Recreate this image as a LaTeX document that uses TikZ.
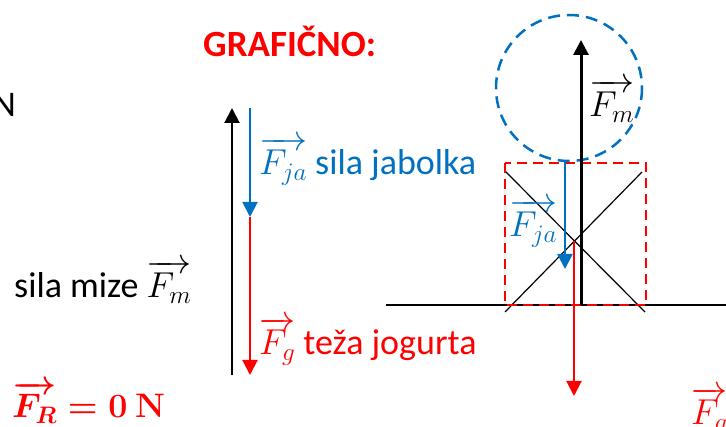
\RequirePackage{fix-cm}
\documentclass[tikz,border=0pt]{standalone}
\usepackage{amsmath}
\usepackage{amssymb}
\usepackage[no-math]{fontspec}
\setmainfont{Carlito}
\usepackage{tikz}
\usetikzlibrary{
    arrows.meta,
    calc
}
\definecolor{myblue}{HTML}{0070C0}
\tikzset{
    lbl/.style={anchor=base west, inner sep=0pt, font=\fontsize{36}{43}\selectfont},
    vec/.style={line width=2pt, -{Triangle[length=15pt,width=15pt]}}
}

\begin{document}
\begin{tikzpicture}[x=1pt,y=-1pt]

% Frame
\useasboundingbox (0,0) rectangle (726,427);

% Left texts
\node[lbl, anchor=base east] (unit) at (16,117) {N};
\node[lbl, red, font=\fontsize{37}{44}\selectfont\bfseries] (title) at (203,57) {GRAFIČNO:};
\node[lbl] (table) at (14,298) {sila mize $\overrightarrow{F_m}$};
\node[lbl, red, font=\fontsize{34}{41}\selectfont\boldmath] (result) at (12,418) {$\overrightarrow{F_R}=\mathbf{0\ N}$};

% Force polygon
\coordinate (mbot) at (232,375);
\coordinate (mtop) at (232,108);
\coordinate (jtop) at (250,108);
\coordinate (jbot) at (250,217);
\coordinate (gbot) at (250,375);
\draw[vec, black] (mbot) -- (mtop);
\draw[vec, myblue] (jtop) -- (jbot);
\draw[vec, red] (jbot) -- (gbot);
\node[lbl, myblue] (apple) at (259,175) {$\overrightarrow{F_{ja}}$ sila jabolka};
\node[lbl, red] (weight) at (259,355) {$\overrightarrow{F_g}$ teža jogurta};

% Ground
\coordinate (gl) at (386,305);
\coordinate (gr) at (726,305);
\draw[line width=1.5pt] (gl) -- (gr);

% Yogurt
\draw[line width=1.2pt] (505,171) -- (645,312);
\draw[line width=1.2pt] (642,172) -- (505,312);
\draw[red, line width=2.5pt, dash pattern=on 10pt off 6pt] (505,163) rectangle (646,305);

% Apple
\draw[myblue, line width=2.5pt, dash pattern=on 12pt off 7pt] (569,88) circle (73);

% Forces on yogurt
\coordinate (fm0) at (581,305);
\coordinate (fm1) at (581,40);
\coordinate (fj0) at (565,161);
\coordinate (fj1) at (565,269);
\coordinate (fg0) at (574,241);
\coordinate (fg1) at (574,396);
\draw[vec, black, line width=3pt] (fm0) -- (fm1);
\draw[vec, myblue, line width=2.5pt] (fj0) -- (fj1);
\draw[vec, red] (fg0) -- (fg1);
\node[lbl] (lm) at (589,117) {$\overrightarrow{F_m}$};
\node[lbl, myblue] (lj) at (509,237) {$\overrightarrow{F_{ja}}$};
\node[lbl, red] (lg) at (691,425) {$\overrightarrow{F_g}$};

\end{tikzpicture}
\end{document}
